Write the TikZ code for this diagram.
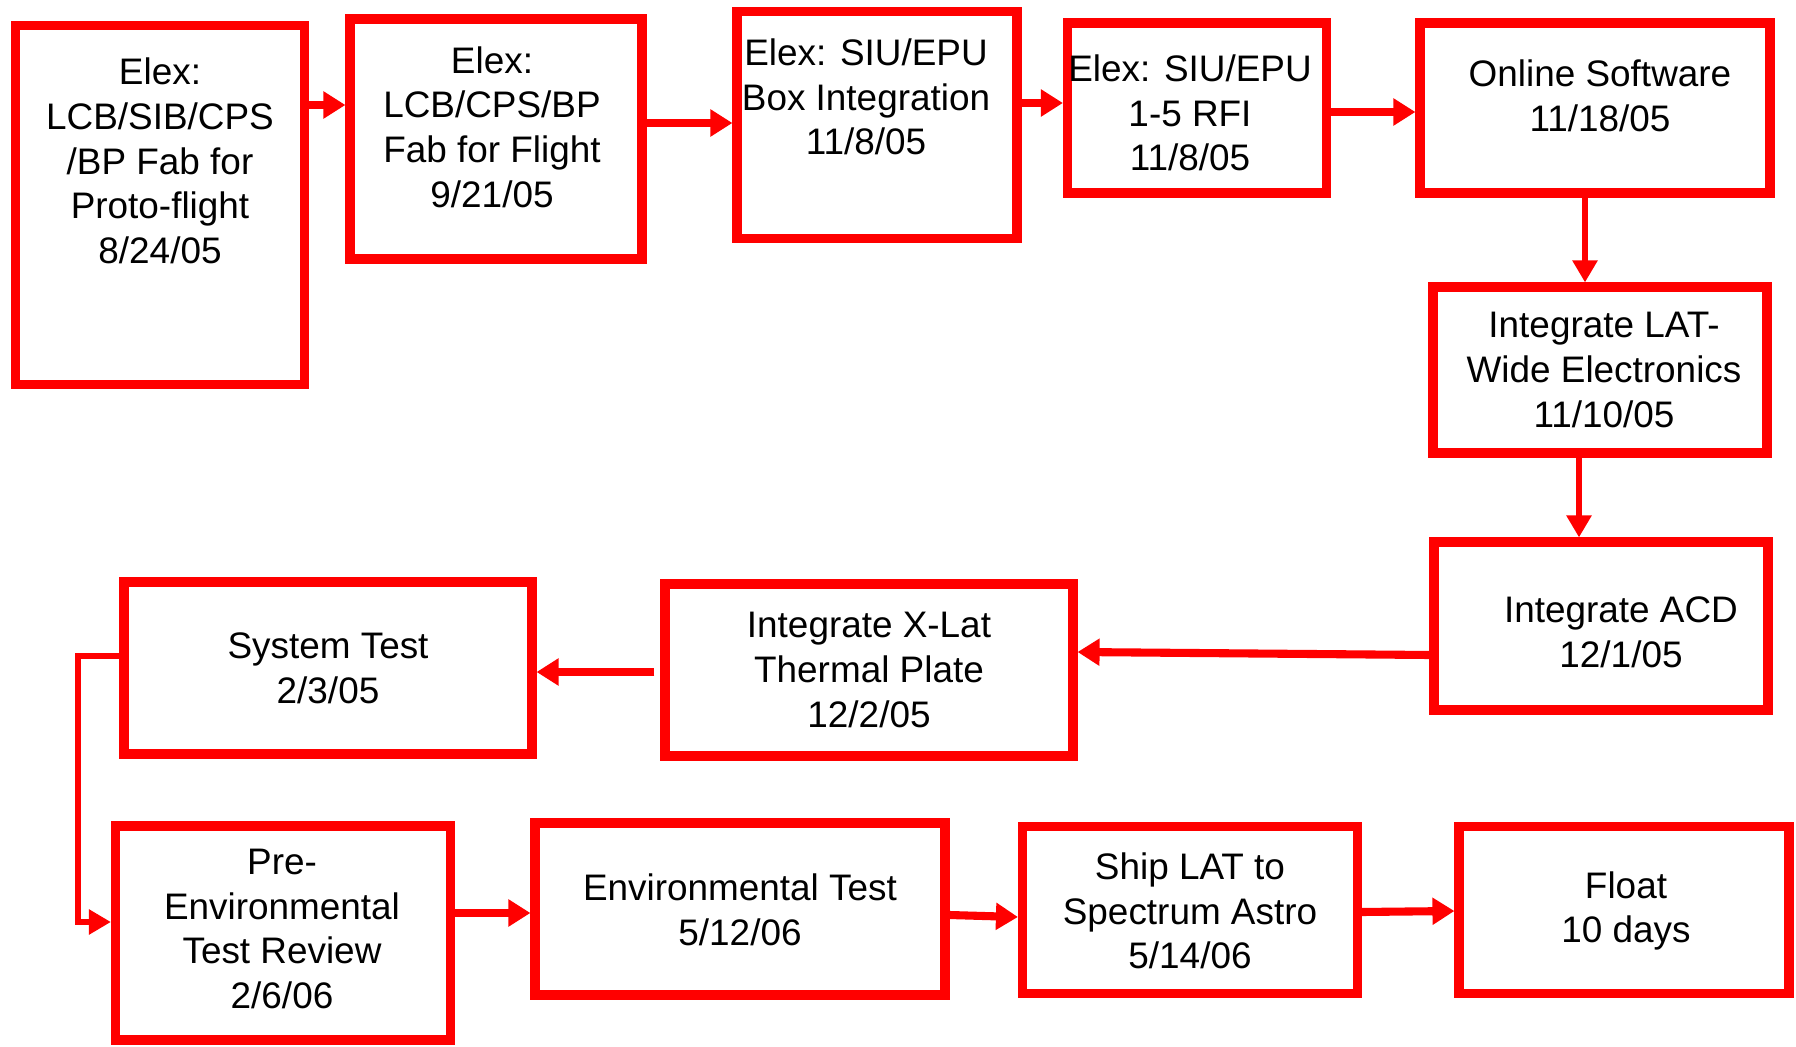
\documentclass[tikz,border=0pt]{standalone}
\usepackage{fontspec}
\setmainfont{Liberation Sans}
\usepackage{xcolor}
\usepackage{tikz}
\usetikzlibrary{arrows.meta}
\definecolor{vermelho}{RGB}{255,0,0}
\tikzset{
  caixa/.style={rectangle,draw=vermelho,line width=2.6pt,fill=white,inner sep=0pt},
  texto/.style={align=center,inner sep=0pt,font=\fontsize{10.5}{12.7}\selectfont},
  seta/.style={-{Triangle[length=2.2mm,width=2.6mm]},line width=2.3pt,vermelho},
  setafina/.style={-{Triangle[length=2.2mm,width=2.4mm]},line width=1.6pt,vermelho}
}
\begin{document}
\begin{tikzpicture}[x=0.1mm,y=-0.1mm]
\useasboundingbox (0,0) rectangle (1796,1047);
% caixas
\node[caixa,minimum width=2.89cm,minimum height=3.59cm] (b1) at (160,205) {};
\node[caixa,minimum width=2.92cm,minimum height=2.40cm] (b2) at (496,139) {};
\node[caixa,minimum width=2.80cm,minimum height=2.27cm] (b3) at (877,125) {};
\node[caixa,minimum width=2.59cm,minimum height=1.70cm] (b4) at (1197,108) {};
\node[caixa,minimum width=3.50cm,minimum height=1.70cm] (b5) at (1595,108) {};
\node[caixa,minimum width=3.34cm,minimum height=1.66cm] (b6) at (1600,370) {};
\node[caixa,minimum width=3.34cm,minimum height=1.68cm] (b7) at (1601,626) {};
\node[caixa,minimum width=4.08cm,minimum height=1.72cm] (b8) at (869,670) {};
\node[caixa,minimum width=4.08cm,minimum height=1.72cm] (b9) at (328,668) {};
\node[caixa,minimum width=3.35cm,minimum height=2.14cm] (b10) at (283,933) {};
\node[caixa,minimum width=4.10cm,minimum height=1.72cm] (b11) at (740,909) {};
\node[caixa,minimum width=3.35cm,minimum height=1.67cm] (b12) at (1190,910) {};
\node[caixa,minimum width=3.30cm,minimum height=1.67cm] (b13) at (1624,910) {};
% textos
\node[texto] (t1) at (160,161) {Elex:\\LCB/SIB/CPS\\/BP Fab for\\Proto-flight\\8/24/05};
\node[texto] (t2) at (492,127) {Elex:\\LCB/CPS/BP\\Fab for Flight\\9/21/05};
\node[texto] (t3) at (866,97) {Elex: SIU/EPU\\Box Integration\\11/8/05};
\node[texto] (t4) at (1190,113) {Elex: SIU/EPU\\1-5 RFI\\11/8/05};
\node[texto] (t5) at (1600,96) {Online Software\\11/18/05};
\node[texto] (t6) at (1604,370) {Integrate LAT-\\Wide Electronics\\11/10/05};
\node[texto] (t7) at (1621,632) {Integrate ACD\\12/1/05};
\node[texto] (t8) at (869,670) {Integrate X-Lat\\Thermal Plate\\12/2/05};
\node[texto] (t9) at (328,668) {System Test\\2/3/05};
\node[texto] (t10) at (282,929) {Pre-\\Environmental\\Test Review\\2/6/06};
\node[texto] (t11) at (740,910) {Environmental Test\\5/12/06};
\node[texto] (t12) at (1190,911) {Ship LAT to\\Spectrum Astro\\5/14/06};
\node[texto] (t13) at (1626,911) {Float\\10 days};
% setas
\draw[seta] (b1.east |- 0,105) -- (b2.west |- 0,105);
\draw[seta] (b2.east |- 0,123) -- (b3.west |- 0,123);
\draw[seta] (b3.east |- 0,103) -- (b4.west |- 0,103);
\draw[seta] (b4.east |- 0,112) -- (b5.west |- 0,112);
\draw[setafina] (b5.south -| 1585,0) -- (b6.north -| 1585,0);
\draw[setafina] (b6.south -| 1579,0) -- (b7.north -| 1579,0);
\draw[seta] (b7.west |- 0,655) -- (b8.east |- 0,652);
\draw[seta] (b8.west |- 0,672) ++(-6,0) -- (b9.east |- 0,672);
\coordinate (dobra) at (78,922);
\draw[setafina] (b9.west |- 0,656) -| (dobra) -- (b10.west |- dobra);
\draw[seta] (b10.east |- 0,913) -- (b11.west |- 0,913);
\draw[seta] (b11.east |- 0,915) -- (b12.west |- 0,917);
\draw[seta] (b12.east |- 0,912) -- (b13.west |- 0,911);
\end{tikzpicture}
\end{document}
